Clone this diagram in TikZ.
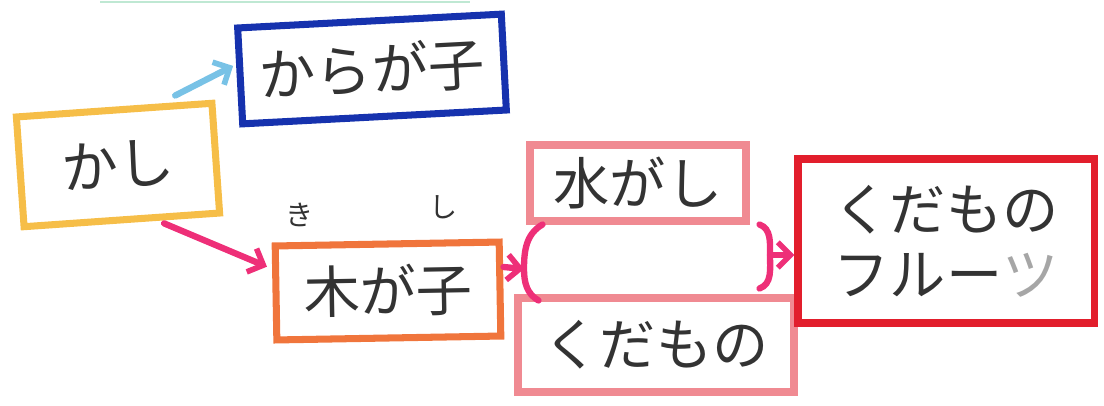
\documentclass[tikz,border=0pt]{standalone}
\usepackage{fontspec}
\usepackage{tikz}
\usetikzlibrary{arrows.meta}
\newfontfamily\jpfont{Noto Sans CJK JP}

\definecolor{penyellow}{HTML}{F6BE48}
\definecolor{penblue}{HTML}{1632AE}
\definecolor{pensky}{HTML}{78C2E6}
\definecolor{penpink}{HTML}{EE2F78}
\definecolor{penorange}{HTML}{F0753C}
\definecolor{pensalmon}{HTML}{F08A92}
\definecolor{penred}{HTML}{E21E2C}
\definecolor{pencil}{HTML}{333333}

\begin{document}
\begin{tikzpicture}[
    word/.style={line width=5pt, rectangle, inner sep=0pt, text=pencil,
      font=\jpfont\fontsize{40}{46}\selectfont, align=center},
    ruby/.style={text=pencil, font=\jpfont\fontsize{20}{24}\selectfont},
    marker/.style={line width=4.5pt, line cap=round},
    tip/.style={-{Straight Barb[length=9pt,width=18pt,line width=4pt]}}
  ]
    % frame of the page
    \useasboundingbox (0,0) rectangle (27.6,10.125);
    \draw[line width=1.5pt, color=cyan!30!green!25] (2.5,10.08) -- (11.75,10.08);

    % the boxes
    \node[word, draw=penyellow, minimum width=4.9cm, minimum height=2.75cm, rotate=4] (kashi) at (2.95,6.0) {かし};
    \node[word, draw=penblue, minimum width=6.6cm, minimum height=2.4cm, rotate=3] (karagako) at (9.3,8.4) {からが子};
    \node[word, draw=penorange, minimum width=5.6cm, minimum height=2.35cm, rotate=1] (kigako) at (9.7,2.85) {木が子};
    \node[word, draw=pensalmon, minimum width=5.4cm, minimum height=1.9cm] (mizugashi) at (15.95,5.55) {水がし};
    \node[word, draw=pensalmon, minimum width=6.9cm, minimum height=2.35cm] (kudamono) at (16.4,1.5) {くだもの};
    \node[word, draw=penred, minimum width=7.4cm, minimum height=4.1cm] (fruit) at (23.65,4.1)
      {くだもの\\フルー{\color{gray!70}ツ}};

    % furigana
    \node[ruby] (ki) at (7.5,4.75) {き};
    \node[ruby] (shi) at (11.1,4.95) {し};

    % arrows out of kashi
    \draw[marker, pensky, tip, shorten >=0.1cm] ([xshift=-1.0cm,yshift=0.1cm]kashi.north east) -- ([yshift=0.3cm]karagako.west);
    \draw[marker, penpink, tip, shorten >=0.15cm] ([xshift=1.05cm]kashi.south) -- ([yshift=0.6cm]kigako.west);

    % split and merge
    \coordinate (split) at (13.1,3.4);
    \coordinate (merge) at (19.25,3.75);
    \draw[marker, penpink, tip] ([yshift=0.55cm]kigako.east) -- (split);
    \draw[marker, penpink] ([xshift=0.4cm]mizugashi.south west) to[out=210,in=90] (split) to[out=-90,in=150] ([xshift=0.6cm,yshift=-0.15cm]kudamono.north west);
    \draw[marker, penpink] ([xshift=0.25cm]mizugashi.south east) to[out=-20,in=90] (merge) to[out=-90,in=20] ([xshift=-0.95cm,yshift=0.15cm]kudamono.north east);
    \draw[marker, penpink, tip] (merge) -- (merge -| fruit.west);
\end{tikzpicture}
\end{document}
